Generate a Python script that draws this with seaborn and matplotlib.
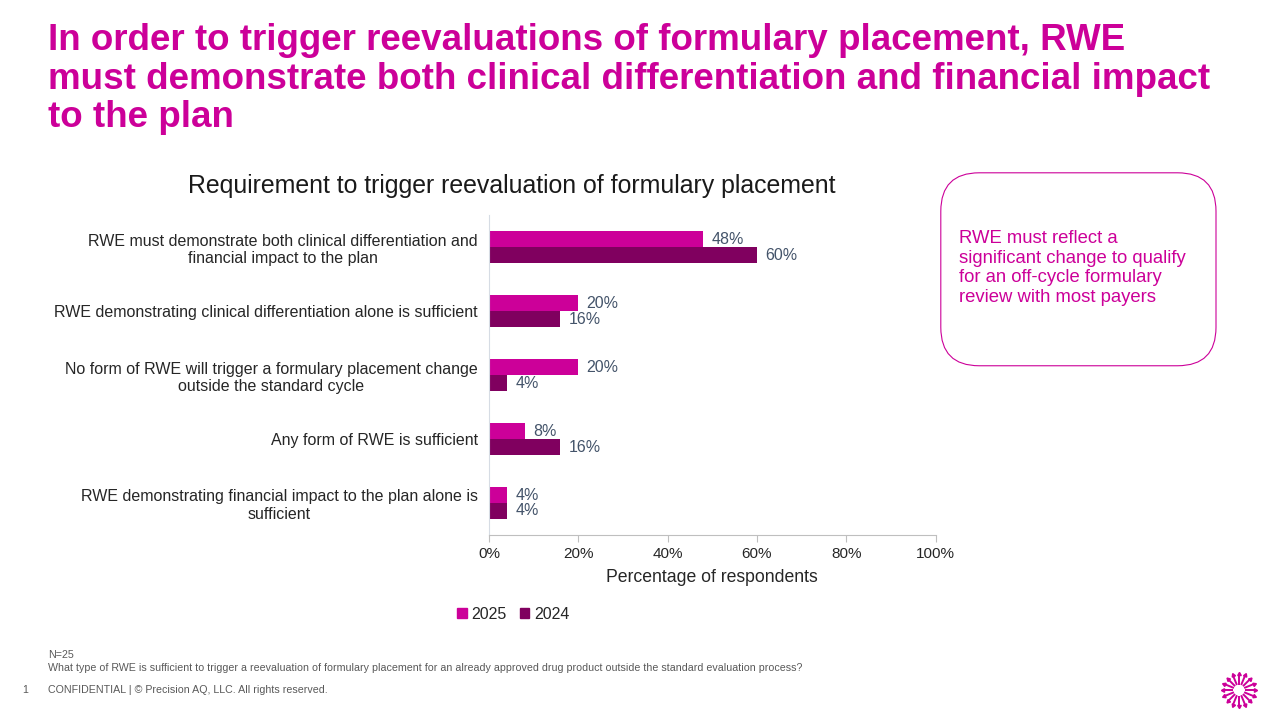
import numpy as np
import pandas as pd
import matplotlib
matplotlib.use("Agg")
import matplotlib.pyplot as plt
import seaborn as sns
from matplotlib.patches import FancyBboxPatch, Patch

# données
categories = [
    "RWE must demonstrate both clinical differentiation and\nfinancial impact to the plan",
    "RWE demonstrating clinical differentiation alone is sufficient",
    "No form of RWE will trigger a formulary placement change\noutside the standard cycle",
    "Any form of RWE is sufficient",
    "RWE demonstrating financial impact to the plan alone is\nsufficient",
]
years = ["2025", "2024"]
val_2025 = [48, 20, 20, 8, 4]
val_2024 = [60, 16, 4, 16, 4]
xticks = [0, 20, 40, 60, 80, 100]

df = pd.DataFrame({
    "Categorie": categories * 2,
    "Annee": ["2025"] * len(categories) + ["2024"] * len(categories),
    "Valeur": val_2025 + val_2024,
})

sns.set_theme(style="white")
plt.rcParams["font.family"] = ["Liberation Sans", "DejaVu Sans"]

MAGENTA = "#CC0099"
PRUNE = "#80005F"
GRIS = "#44546A"

fig = plt.figure(figsize=(12.8, 7.2), dpi=100)
ax = fig.add_axes([0.382, 0.257, 0.349, 0.444])

sns.barplot(data=df, y="Categorie", x="Valeur", hue="Annee", hue_order=years,
            order=categories, palette=[MAGENTA, PRUNE], width=0.5, saturation=1,
            orient="h", ax=ax, legend=False, linewidth=0)

for cont in ax.containers:
    ax.bar_label(cont, labels=[f"{v:.0f}%" for v in cont.datavalues],
                 padding=6, fontsize=11.5, color=GRIS)

ax.set_xlim(0, 100)
ax.set_xticks(xticks)
ax.set_xticklabels([f"{t}%" for t in xticks], fontsize=11)
ax.set_ylim(4.5, -0.5)
ax.set_ylabel("")
ax.set_xlabel("Percentage of respondents", fontsize=12.7, labelpad=6)
ax.tick_params(axis="y", labelsize=11.5, length=0, pad=8)
ax.tick_params(axis="x", length=5, width=0.8, color="#BFBFBF", direction="out", bottom=True)
for lab in ax.get_yticklabels():
    lab.set_horizontalalignment("right")
    lab.set_multialignment("center")
for s in ["top", "right"]:
    ax.spines[s].set_visible(False)
ax.spines["left"].set_color("#D6DCE4")
ax.spines["bottom"].set_color("#BFBFBF")
ax.spines["left"].set_linewidth(0.8)
ax.spines["bottom"].set_linewidth(0.8)
ax.grid(False)

ax.set_title("Requirement to trigger reevaluation of formulary placement",
             fontsize=17.9, pad=16, x=0.05, ha="center", color="#1a1a1a")

# légende
handles = [Patch(color=MAGENTA, label="2025"), Patch(color=PRUNE, label="2024")]
fig.legend(handles=handles, loc="center left", bbox_to_anchor=(0.346, 0.147), ncol=2,
           frameon=False, fontsize=11.5, handlelength=0.6, handleheight=0.6,
           handletextpad=0.3, columnspacing=0.8)

# titre principal
fig.text(0.0375, 0.968, "In order to trigger reevaluations of formulary placement, RWE\n"
         "must demonstrate both clinical differentiation and financial impact\nto the plan",
         fontsize=26.5, fontweight="bold", color=MAGENTA, va="top", ha="left",
         linespacing=1.13)

# encadré
box = FancyBboxPatch((0.735, 0.492), 0.215, 0.268, transform=fig.transFigure,
                     boxstyle="round,pad=0,rounding_size=0.03", fc="white",
                     ec=MAGENTA, lw=0.8, mutation_aspect=1.78)
fig.patches.append(box)
fig.text(0.749, 0.681, "RWE must reflect a\nsignificant change to qualify\nfor an off-cycle formulary\nreview with most payers",
         fontsize=13.3, color=MAGENTA, va="top", ha="left", linespacing=1.22)

# notes de bas de page
fig.text(0.0375, 0.0903, "N=25", fontsize=7.7, color="#595959", va="center", ha="left")
fig.text(0.0375, 0.0722, "What type of RWE is sufficient to trigger a reevaluation of formulary placement for an already approved drug product outside the standard evaluation process?",
         fontsize=7.7, color="#595959", va="center", ha="left")
fig.text(0.017, 0.042, "1", fontsize=7.7, color="#595959", va="center")
fig.text(0.0375, 0.042, "CONFIDENTIAL | © Precision AQ, LLC. All rights reserved.",
         fontsize=7.7, color="#595959", va="center")

# logo (étoile)
lax = fig.add_axes([0.953, 0.015, 0.03, 0.053])
ang = np.linspace(0, 2 * np.pi, 16, endpoint=False)
for a in ang:
    lax.plot([0.35 * np.cos(a), np.cos(a)], [0.35 * np.sin(a), np.sin(a)],
             color=MAGENTA, lw=1.4, solid_capstyle="butt")
    lax.plot(np.cos(a), np.sin(a), marker=(3, 0, np.degrees(a) - 90), color=MAGENTA, ms=3)
lax.set_xlim(-1.2, 1.2)
lax.set_ylim(-1.2, 1.2)
lax.set_aspect("equal")
lax.axis("off")

fig.savefig("out.png", dpi=100)
